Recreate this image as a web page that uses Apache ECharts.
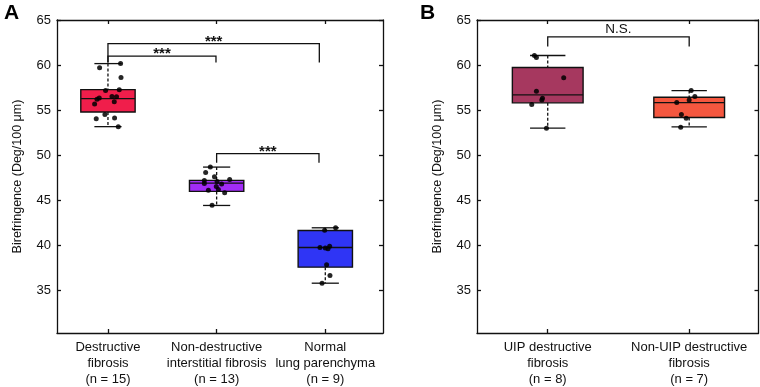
<!DOCTYPE html>
<html>
<head>
<meta charset="utf-8">
<script src="https://cdn.jsdelivr.net/npm/echarts@6/dist/echarts.min.js"></script>
<style>
  html, body { margin: 0; padding: 0; background: #fff; }
  #chart { width: 760px; height: 387px; }
</style>
</head>
<body>
<div id="chart"></div>
<script>
// ---- panel A ----
var catsA = ['Destructive\nfibrosis\n(n = 15)', 'Non-destructive\ninterstitial fibrosis\n(n = 13)', 'Normal\nlung parenchyma\n(n = 9)'];
// [category, min, Q1, median, Q3, max]
var boxA = [
  [1, 53.16, 54.78, 56.27, 57.27, 60.16],
  [2, 44.41, 45.97, 46.89, 47.19, 48.67],
  [3, 35.78, 37.56, 39.74, 41.63, 41.93]
];
var pointsA = [
  [0.923, 59.71], [1.116, 60.16], [1.12, 58.63], [1.104, 57.27], [0.978, 57.16],
  [1.037, 56.52], [1.079, 56.49], [0.899, 56.19], [1.058, 55.93], [0.877, 55.67],
  [0.972, 54.52], [0.892, 54.04], [1.061, 54.11], [1.095, 53.16], [0.92, 56.35],
  [1.942, 48.67], [1.899, 48.08], [1.887, 47.19], [2.12, 47.3], [2.004, 47.08],
  [1.887, 46.86], [2.046, 46.78], [1.997, 46.52], [1.924, 46.11], [2.016, 46.19],
  [2.074, 45.82], [1.958, 44.44], [1.98, 47.6],
  [3.095, 41.93], [2.994, 41.67], [2.951, 39.74], [3.04, 39.89], [3.025, 39.6],
  [3.012, 37.82], [3.043, 36.63], [2.97, 35.78], [3.0, 39.7]
];
// [x left, x right, y bar, y left end, y right end]
var bracketsA = [
  [1, 2.945, 62.38, 60.27, 60.27],
  [1, 1.994, 61.0, 60.27, 60.27],
  [2.0, 2.942, 50.16, 49.16, 49.16]
];
var bracketTextA = ['***', '***', '***'];

// ---- panel B ----
var catsB = ['UIP destructive\nfibrosis\n(n = 8)', 'Non-UIP destructive\nfibrosis\n(n = 7)'];
var boxB = [
  [1, 52.99, 55.8, 56.69, 59.72, 61.06],
  [2, 53.13, 54.17, 55.83, 56.43, 57.17]
];
var pointsB = [
  [0.906, 61.06], [0.92, 60.83], [1.113, 58.58], [0.92, 57.1],
  [0.963, 56.32], [0.958, 56.13], [0.887, 55.61], [0.991, 52.99],
  [2.014, 57.17], [2.04, 56.5], [2.0, 56.13], [1.912, 55.83],
  [1.945, 54.5], [1.979, 54.1], [1.94, 53.1]
];
var bracketsB = [
  [1, 2, 63.13, 62.06, 62.06]
];
var bracketTextB = ['N.S.'];

var yTicks = [35, 40, 45, 50, 55, 60, 65];

var colorsA = ['#F01E4B', '#A22CF7', '#2F35F5'];
var colorsB = ['#A6385F', '#F5573F'];
var FONT = 'Liberation Sans, Arial, Helvetica, sans-serif';
var INK = '#111';

var chart = echarts.init(document.getElementById('chart'));

function boxRenderer(colors) {
  return function (params, api) {
    var x = api.value(0);
    var lo = api.value(1), q1 = api.value(2), md = api.value(3), q3 = api.value(4), hi = api.value(5);
    var tl = api.coord([x - 0.25, q3]);
    var br = api.coord([x + 0.25, q1]);
    var mid = api.coord([x, md]);
    var top = api.coord([x, hi]);
    var bot = api.coord([x, lo]);
    var capL = api.coord([x - 0.125, hi])[0];
    var capR = api.coord([x + 0.125, hi])[0];
    var solid = { stroke: INK, lineWidth: 1.3 };
    var dash = { stroke: INK, lineWidth: 1.3, lineDash: [3, 2] };
    return {
      type: 'group',
      children: [
        { type: 'line', shape: { x1: top[0], y1: top[1], x2: top[0], y2: tl[1] }, style: dash },
        { type: 'line', shape: { x1: bot[0], y1: br[1], x2: bot[0], y2: bot[1] }, style: dash },
        { type: 'line', shape: { x1: capL, y1: top[1], x2: capR, y2: top[1] }, style: solid },
        { type: 'line', shape: { x1: capL, y1: bot[1], x2: capR, y2: bot[1] }, style: solid },
        { type: 'rect', shape: { x: tl[0], y: tl[1], width: br[0] - tl[0], height: br[1] - tl[1] },
          style: { fill: colors[params.dataIndex], stroke: INK, lineWidth: 1.4 } },
        { type: 'line', shape: { x1: tl[0], y1: mid[1], x2: br[0], y2: mid[1] }, style: solid }
      ]
    };
  };
}

function bracketRenderer(texts, textFont, textGap) {
  return function (params, api) {
    var a = api.coord([api.value(0), api.value(2)]);
    var b = api.coord([api.value(1), api.value(2)]);
    var la = api.coord([api.value(0), api.value(3)]);
    var lb = api.coord([api.value(1), api.value(4)]);
    var st = { stroke: INK, lineWidth: 1.3, fill: null };
    return {
      type: 'group',
      children: [
        { type: 'polyline', shape: { points: [la, a, b, lb] }, style: st },
        { type: 'text', x: (a[0] + b[0]) / 2, y: a[1] - textGap,
          style: { text: texts[params.dataIndex], fill: INK, font: textFont + ' ' + FONT,
                   align: 'center', verticalAlign: 'middle' } }
      ]
    };
  };
}

function xAxes(grid, min, max, labels, n) {
  var vals = [];
  for (var i = 1; i <= n; i++) vals.push(i);
  var common = {
    gridIndex: grid, type: 'value', min: min, max: max,
    splitLine: { show: false },
    axisLine: { show: true, onZero: false, lineStyle: { color: INK, width: 1.3 } },
    axisTick: { show: true, inside: true, length: 4, customValues: vals, lineStyle: { color: INK, width: 1.3 } }
  };
  return [
    Object.assign({}, common, {
      position: 'bottom',
      axisLabel: {
        customValues: vals, margin: 6, color: INK, fontFamily: FONT, fontSize: 13, lineHeight: 16,
        formatter: function (v) { return labels[Math.round(v) - 1]; }
      }
    }),
    Object.assign({}, common, { position: 'top', axisLabel: { show: false } })
  ];
}

function yAxes(grid) {
  var common = {
    gridIndex: grid, type: 'value', min: 30.25, max: 65,
    splitLine: { show: false },
    axisLine: { show: true, onZero: false, lineStyle: { color: INK, width: 1.3 } },
    axisTick: { show: true, inside: true, length: 4, customValues: yTicks, lineStyle: { color: INK, width: 1.3 } }
  };
  return [
    Object.assign({}, common, {
      position: 'left',
      name: 'Birefringence (Deg/100 \u03bcm)', nameLocation: 'middle', nameGap: 33,
      nameTextStyle: { color: INK, fontFamily: FONT, fontSize: 12.5 },
      axisLabel: { customValues: yTicks, margin: 6, color: INK, fontFamily: FONT, fontSize: 13 }
    }),
    Object.assign({}, common, { position: 'right', axisLabel: { show: false } })
  ];
}

var option = {
  animation: false,
  backgroundColor: '#fff',
  textStyle: { fontFamily: FONT },
  grid: [
    { left: 57, right: 377, top: 20, bottom: 54 },
    { left: 477, right: 1.5, top: 20, bottom: 54 }
  ],
  xAxis: xAxes(0, 0.531, 3.531, catsA, 3).concat(xAxes(1, 0.5, 2.49, catsB, 2)),
  yAxis: yAxes(0).concat(yAxes(1)),
  graphic: [
    { type: 'text', left: 4, top: 3, style: { text: 'A', font: 'bold 21px ' + FONT, fill: '#000' } },
    { type: 'text', left: 420, top: 3, style: { text: 'B', font: 'bold 21px ' + FONT, fill: '#000' } }
  ],
  series: [
    { type: 'custom', xAxisIndex: 0, yAxisIndex: 0, data: boxA, renderItem: boxRenderer(colorsA),
      encode: { x: 0, y: [1, 2, 3, 4, 5] }, z: 2 },
    { type: 'scatter', xAxisIndex: 0, yAxisIndex: 0, data: pointsA, symbolSize: 5,
      itemStyle: { color: '#000', opacity: 0.85 }, z: 4 },
    { type: 'custom', xAxisIndex: 0, yAxisIndex: 0, data: bracketsA, renderItem: bracketRenderer(bracketTextA, 'bold 15px', 2),
      encode: { x: [0, 1], y: [2, 3, 4] }, z: 3 },
    { type: 'custom', xAxisIndex: 2, yAxisIndex: 2, data: boxB, renderItem: boxRenderer(colorsB),
      encode: { x: 0, y: [1, 2, 3, 4, 5] }, z: 2 },
    { type: 'scatter', xAxisIndex: 2, yAxisIndex: 2, data: pointsB, symbolSize: 5,
      itemStyle: { color: '#000', opacity: 0.85 }, z: 4 },
    { type: 'custom', xAxisIndex: 2, yAxisIndex: 2, data: bracketsB, renderItem: bracketRenderer(bracketTextB, '13.5px', 8),
      encode: { x: [0, 1], y: [2, 3, 4] }, z: 3 }
  ]
};

chart.setOption(option);
</script>
</body>
</html>
